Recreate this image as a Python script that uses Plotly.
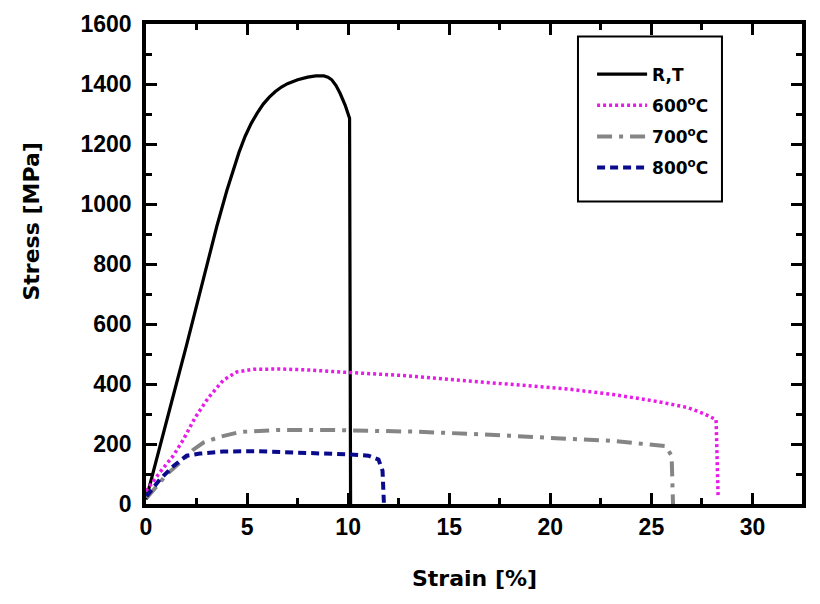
import plotly.graph_objects as go

# ---- data ----
rt_strain = [0.0, 0.5, 1.0, 1.5, 2.0, 2.5, 3.0, 3.5, 4.0, 4.3, 4.6, 4.9, 5.2, 5.5, 5.8, 6.1, 6.4, 6.7, 7.0, 7.5, 8.0, 8.4, 8.8, 9.0, 9.19, 9.4, 9.6, 9.85, 10.07, 10.12]
rt_stress = [15, 140, 270, 400, 528, 660, 792, 925, 1045, 1113, 1172, 1225, 1268, 1303, 1333, 1356, 1375, 1390, 1401, 1414, 1423, 1427, 1427, 1423, 1414, 1395, 1369, 1330, 1286, 0]

s600_strain = [0.0, 0.69, 1.35, 1.85, 2.43, 3.08, 3.83, 4.49, 5.31, 6.63, 7.95, 9.27, 10.1, 12.57, 15.05, 17.5, 19.2, 20.9, 23.1, 25.1, 26.77, 27.6, 28.2, 28.23, 28.3]
s600_stress = [43, 106, 161, 215, 288, 354, 413, 440, 449, 450, 447, 441, 438, 429, 416, 402, 392, 383, 365, 344, 322, 301, 281, 227, 26]

s700_strain = [0.03, 1.02, 1.85, 2.34, 2.84, 3.66, 4.65, 6.63, 8.78, 10.1, 13.4, 16.7, 20.0, 20.99, 22.97, 24.8, 25.7, 26.0, 26.07]
s700_stress = [20, 98, 148, 181, 205, 224, 240, 247, 247, 246, 241, 232, 223, 217, 211, 201, 193, 161, 0]

s800_strain = [0.03, 0.69, 1.35, 2.01, 2.67, 3.83, 5.48, 7.13, 8.78, 10.1, 11.0, 11.5, 11.7, 11.73, 11.77]
s800_stress = [26, 82, 126, 161, 168, 175, 176, 173, 168, 165, 161, 148, 111, 48, 0]

series_names = ["R,T", "600<sup>o</sup>C", "700<sup>o</sup>C", "800<sup>o</sup>C"]

x_ticks = [0, 5, 10, 15, 20, 25, 30]
y_ticks = [0, 200, 400, 600, 800, 1000, 1200, 1400, 1600]

TICK_FONT = "Liberation Sans"
TITLE_FONT = "DejaVu Sans"

fig = go.Figure()
fig.add_trace(go.Scatter(x=rt_strain, y=rt_stress, mode="lines", name=series_names[0],
                         legendgroup="a", line=dict(color="black", width=3.2)))
fig.add_trace(go.Scatter(x=s600_strain, y=s600_stress, mode="lines", name=series_names[1],
                         legendgroup="b", line=dict(color="#e81ce8", width=3.5, dash="3px,3px")))
fig.add_trace(go.Scatter(x=s700_strain, y=s700_stress, mode="lines", name=series_names[2],
                         legendgroup="c", line=dict(color="#858585", width=4, dash="15px,7px,4px,7px")))
fig.add_trace(go.Scatter(x=s800_strain, y=s800_stress, mode="lines", name=series_names[3],
                         legendgroup="d", line=dict(color="#0a0a8c", width=4, dash="8px,5px")))

axis_common = dict(
    showline=True, linewidth=3.5, linecolor="black", mirror="allticks",
    ticks="inside", ticklen=11, tickwidth=3, tickcolor="black",
    showgrid=False, zeroline=False, automargin=False,
    tickfont=dict(family=TICK_FONT, size=23, color="black", weight="bold"),
)

fig.update_xaxes(range=[0, 32.45], tickmode="array", tickvals=x_ticks,
                 ticktext=[str(v) for v in x_ticks], ticklabelstandoff=0,
                 minor=dict(ticks="inside", ticklen=6, tickwidth=2.5, tickcolor="black", dtick=2.5,
                            tick0=0, showgrid=False),
                 **axis_common)
fig.update_yaxes(range=[0, 1600], tickmode="array", tickvals=y_ticks,
                 ticktext=[str(v) for v in y_ticks], ticklabelstandoff=6,
                 minor=dict(ticks="inside", ticklen=6, tickwidth=2.5, tickcolor="black", dtick=100,
                            tick0=0, showgrid=False),
                 **axis_common)

fig.update_layout(
    width=812, height=596,
    margin=dict(l=138, r=18, t=16, b=100, autoexpand=False),
    paper_bgcolor="white", plot_bgcolor="white",
    showlegend=True,
    legend=dict(x=0.680, y=0.932, xanchor="left", yanchor="top",
                bgcolor="rgba(0,0,0,0)", borderwidth=0,
                font=dict(family=TITLE_FONT, size=17, color="black", weight="bold"),
                tracegroupgap=6, itemwidth=50),
    shapes=[
        dict(type="rect", xref="paper", yref="paper", x0=0.6585, x1=0.878, y0=0.630, y1=0.974,
             line=dict(color="black", width=2), fillcolor="rgba(0,0,0,0)", layer="above"),
    ],
    annotations=[
        dict(text="Stress [MPa]", xref="paper", yref="paper", x=-0.1738, y=0.5885,
             textangle=-90, showarrow=False, xanchor="center", yanchor="middle",
             font=dict(family=TITLE_FONT, size=22, color="black", weight="bold")),
        dict(text="Strain [%]", xref="paper", yref="paper", x=0.5, y=-0.155,
             showarrow=False, xanchor="center", yanchor="middle",
             font=dict(family=TITLE_FONT, size=22, color="black", weight="bold")),
    ],
)

fig.write_html("out.html")
